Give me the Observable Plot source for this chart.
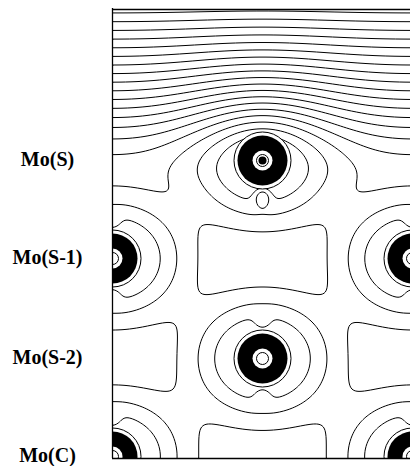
<!DOCTYPE html>
<html><head><meta charset="utf-8">
<script src="https://cdn.jsdelivr.net/npm/d3@7"></script>
<script src="https://cdn.jsdelivr.net/npm/@observablehq/plot@0.6"></script>
<style>body{margin:0;background:#fff}</style>
</head><body><div id="chart"></div>
<script>
const layerNames = ["Mo(S)", "Mo(S-1)", "Mo(S-2)", "Mo(C)"];
const layerY = [152, 250, 350, 448];
const layerX0 = [150, 0, 150, 0];
const atomLayer = [0, 1, 1, 2, 3, 3];
const atomX = [150, 0, 300, 150, 0, 300];
const atomY = [152, 250, 250, 350, 448, 448];
const levels = [-9.985, -9.515, -9.045, -8.575, -8.105, -7.635, -7.165, -6.695, -6.225, -5.755,
                -5.285, -4.815, -4.345, -3.875, -3.405, -2.935, -2.465, -1.995, -1.525];

const atoms = atomX.map((x, i) => ({x, y: atomY[i], layer: atomLayer[i]}));
// lattice used for the density model (layers continue below Mo(C))
const period = 300;
const fieldAtoms = [];
for (let i = 0; i < 7; i++) {
  const y = i < 4 ? layerY[i] : layerY[3] + (i - 3) * 98;
  const x0 = layerX0[i % 2];
  for (const k of [-1, 0, 1]) fieldAtoms.push({x: x0 + k * period, y, top: i === 0});
}
const lam = 30, kv = 1.15;
const Bs = 0.045, gy = 170, gw = 10;
const ys = 136, w = 15, lv = 19;
const nDy = 36, nSx = 6, nSy = 7, dTop = 1.0, dBulk = 0.45;
function field(x, y) {
  let rho = Bs / (1 + Math.exp((y - gy) / gw)), dep = 0;
  for (const a of fieldAtoms) {
    const dx = x - a.x, dy = y - a.y;
    if (Math.abs(dx) > 320 || Math.abs(dy) > 320) continue;
    const k = a.top && dy < 0 ? 1 : kv;
    const re = Math.sqrt(dx * dx + k * k * dy * dy);
    rho += Math.exp(-re / lam);
    const sides = a.top ? [1] : [1, -1];
    for (const sg of sides) {
      const ny = dy - sg * nDy;
      dep += (a.top ? dTop : dBulk) * Math.exp(-(dx * dx) / (2 * nSx * nSx) - (ny * ny) / (2 * nSy * nSy));
    }
  }
  const t = (ys - y) / w;
  const v = (w / lv) * (t > 30 ? t : Math.log1p(Math.exp(t)));
  return Math.log(rho) - v - dep;
}

const chart = Plot.plot({
  width: 410, height: 466,
  marginLeft: 112, marginRight: -2, marginTop: 8, marginBottom: 8,
  x: {domain: [0, 300], axis: null},
  y: {domain: [0, 450], reverse: true, axis: null},
  marks: [
    Plot.contour({x1: 0, y1: 0, x2: 300, y2: 450, value: field, thresholds: levels,
      pixelSize: 1, stroke: "black", fill: "none", strokeWidth: 1}),
    Plot.dot(atoms, {x: "x", y: "y", r: 28.5, fill: "white", stroke: "black", strokeWidth: 1, clip: true}),
    Plot.dot(atoms, {x: "x", y: "y", r: 25, fill: "black", clip: true}),
    Plot.dot(atoms, {x: "x", y: "y", r: 10, fill: "white", clip: true}),
    Plot.dot(atoms, {x: "x", y: "y", r: 6, fill: "none", stroke: "black", strokeWidth: 1, clip: true}),
    Plot.dot(atoms.filter(d => d.layer === 0), {x: "x", y: "y", r: 4, fill: "black", clip: true}),
    Plot.ruleX([0], {stroke: "black", strokeWidth: 1.3}),
    Plot.ruleY([1, 450], {stroke: "black", strokeWidth: 1.3}),
    Plot.axisY(layerY, {anchor: "left", tickSize: 0, tickPadding: 65, textAnchor: "middle",
      tickFormat: d => layerNames[layerY.indexOf(d)], label: null, dy: -1,
      fontSize: 20, fontWeight: "bold", fontFamily: "Liberation Serif", fill: "black"})
  ]
});
document.getElementById("chart").appendChild(chart);
</script>
</body></html>
